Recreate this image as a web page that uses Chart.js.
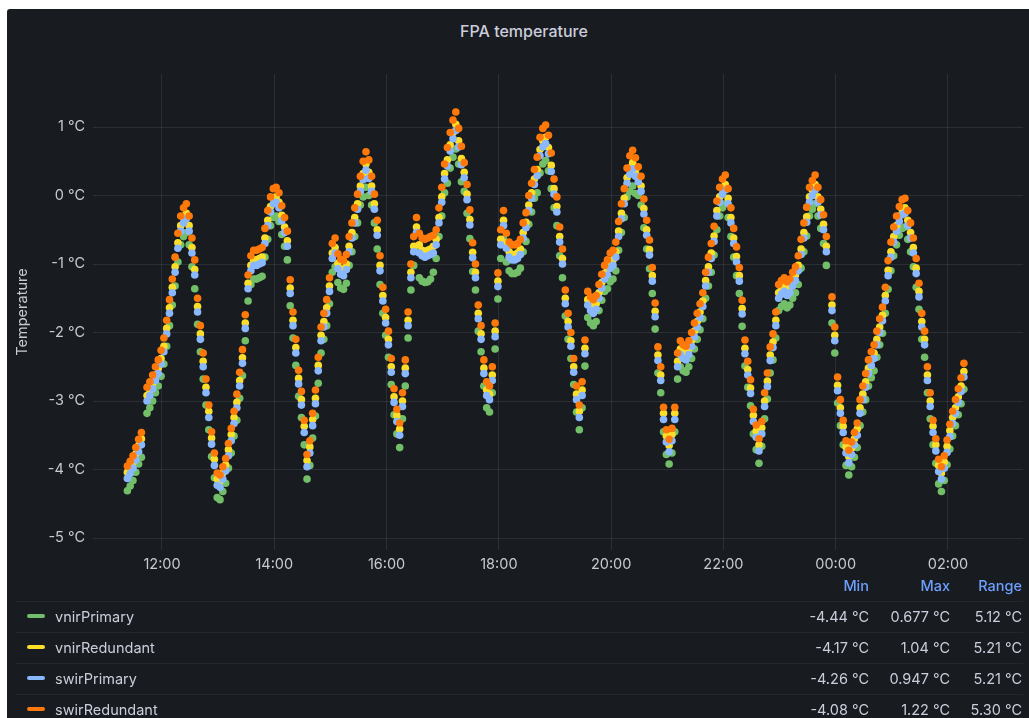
<!DOCTYPE html>
<html lang="en">
<head>
<meta charset="UTF-8">
<title>FPA temperature</title>
<script src="https://cdn.jsdelivr.net/npm/chart.js"></script>
<style>
    html, body { margin: 0; padding: 0; background: #ffffff; }
    body { width: 1029px; height: 718px; overflow: hidden; position: relative; font-family: Inter, 'Noto Sans', sans-serif; }
    .panel { position: absolute; left: 7px; top: 9px; width: 1022px; height: 709px; background: #181b1f; border-top-left-radius: 3px; overflow: hidden; }
    .panel-title { position: absolute; left: 0; width: 1034px; top: 12px; line-height: 20px; text-align: center; font-size: 16px; font-weight: 500; color: #ccccdc; }
    #chart { position: absolute; left: 0; top: 0; }
    .lg-head { position: absolute; left: 0; top: 567px; width: 1022px; height: 20px; font-size: 14.5px; font-weight: 500; color: #6e9fff; line-height: 20px; }
    .lg-head span, .lg-row .val { position: absolute; white-space: nowrap; }
    .lg-row { position: absolute; left: 9px; width: 1007px; height: 31px; border-top: 1px solid rgba(204,204,220,0.07); font-size: 14.5px; color: #ccccdc; line-height: 29px; }
    .lg-row .sw { position: absolute; left: 11px; top: 12px; width: 18px; height: 4px; border-radius: 2px; }
    .lg-row .name { position: absolute; left: 39px; }
</style>
</head>
<body>
<div class="panel">
    <div class="panel-title">FPA temperature</div>
    <canvas id="chart" width="1022" height="570"></canvas>
    <div id="legend"></div>
</div>

<script>
// sample times (every 3 minutes, 11:23 -> 02:17)
const times = [
    '11:23','11:26','11:29','11:32','11:35','11:38','11:41','11:44','11:47','11:50','11:53','11:56','11:59',
    '12:02','12:05','12:08','12:11','12:14','12:17','12:20','12:23','12:26','12:29','12:32','12:35','12:38','12:41','12:44','12:47','12:50','12:53','12:56','12:59',
    '13:02','13:05','13:08','13:11','13:14','13:17','13:20','13:23','13:26','13:29','13:32','13:35','13:38','13:41','13:44','13:47','13:50','13:53','13:56','13:59',
    '14:02','14:05','14:08','14:11','14:14','14:17','14:20','14:23','14:26','14:29','14:32','14:35','14:38','14:41','14:44','14:47','14:50','14:53','14:56','14:59',
    '15:02','15:05','15:08','15:11','15:14','15:17','15:20','15:23','15:26','15:29','15:32','15:35','15:38','15:41','15:44','15:47','15:50','15:53','15:56','15:59',
    '16:02','16:05','16:08','16:11','16:14','16:17','16:20','16:23','16:26','16:29','16:32','16:35','16:38','16:41','16:44','16:47','16:50','16:53','16:56','16:59',
    '17:02','17:05','17:08','17:11','17:14','17:17','17:20','17:23','17:26','17:29','17:32','17:35','17:38','17:41','17:44','17:47','17:50','17:53','17:56','17:59',
    '18:02','18:05','18:08','18:11','18:14','18:17','18:20','18:23','18:26','18:29','18:32','18:35','18:38','18:41','18:44','18:47','18:50','18:53','18:56','18:59',
    '19:02','19:05','19:08','19:11','19:14','19:17','19:20','19:23','19:26','19:29','19:32','19:35','19:38','19:41','19:44','19:47','19:50','19:53','19:56','19:59',
    '20:02','20:05','20:08','20:11','20:14','20:17','20:20','20:23','20:26','20:29','20:32','20:35','20:38','20:41','20:44','20:47','20:50','20:53','20:56','20:59',
    '21:02','21:05','21:08','21:11','21:14','21:17','21:20','21:23','21:26','21:29','21:32','21:35','21:38','21:41','21:44','21:47','21:50','21:53','21:56','21:59',
    '22:02','22:05','22:08','22:11','22:14','22:17','22:20','22:23','22:26','22:29','22:32','22:35','22:38','22:41','22:44','22:47','22:50','22:53','22:56','22:59',
    '23:02','23:05','23:08','23:11','23:14','23:17','23:20','23:23','23:26','23:29','23:32','23:35','23:38','23:41','23:44','23:47','23:50','23:53','23:56','23:59',
    '00:02','00:05','00:08','00:11','00:14','00:17','00:20','00:23','00:26','00:29','00:32','00:35','00:38','00:41','00:44','00:47','00:50','00:53','00:56','00:59',
    '01:02','01:05','01:08','01:11','01:14','01:17','01:20','01:23','01:26','01:29','01:32','01:35','01:38','01:41','01:44','01:47','01:50','01:53','01:56','01:59',
    '02:02','02:05','02:08','02:11','02:14','02:17'
];

const vnirPrimary = [
    -4.31,-4.24,-4.16,-4.04,-3.92,-3.82,null,-3.18,-3.10,-3.00,-2.88,-2.78,-2.64,
    -2.46,-2.20,-1.90,-1.60,-1.32,-0.97,-0.72,-0.60,-0.54,-0.72,-1.04,-1.36,-1.88,-2.28,-2.68,-3.06,-3.42,-3.81,-4.12,-4.41,
    -4.44,-4.32,-4.20,-3.98,-3.76,-3.51,-3.28,-2.96,-2.63,-2.12,-1.54,-1.30,-1.22,-1.22,-1.20,-1.18,-0.90,-0.64,-0.44,-0.32,
    -0.30,-0.38,-0.57,-0.74,-0.94,-1.61,-2.08,-2.48,-2.93,-3.24,-3.64,-4.14,-3.94,-3.54,-3.22,-2.74,-2.30,-2.10,-1.90,-1.58,
    -1.12,-1.04,-1.27,-1.35,-1.37,-1.28,-1.02,-0.82,-0.60,-0.40,-0.14,-0.02,0.12,0.00,-0.14,-0.40,-0.78,-1.30,-1.72,-2.04,
    -2.36,-2.76,-3.20,-3.48,-3.68,-3.26,-2.78,-2.08,-1.38,-1.02,-0.74,-1.20,-1.25,-1.27,-1.26,-1.22,-1.12,-0.92,-0.60,-0.30,
    0.04,0.18,0.40,0.56,0.68,0.46,0.20,0.06,-0.26,-0.63,-1.11,-1.38,-1.98,-2.28,-2.78,-3.10,-3.16,-2.88,-2.24,-1.51,
    -0.92,-0.64,-0.97,-1.10,-1.14,-1.14,-1.12,-1.06,-0.82,-0.67,-0.42,-0.24,-0.04,0.04,0.33,0.46,0.51,0.36,0.10,-0.18,
    -0.44,-0.88,-1.20,-1.76,-2.10,-2.38,-2.76,-3.16,-3.42,-3.10,-2.49,-1.78,-1.86,-1.90,-1.84,-1.68,-1.53,-1.40,-1.36,-1.26,
    -1.22,-1.10,-0.80,-0.54,-0.32,-0.02,0.06,0.14,0.03,0.00,-0.14,-0.47,-0.78,-1.07,-1.43,-1.95,-2.59,-2.88,-3.45,-3.78,
    -3.92,-3.76,-3.45,-2.68,-2.50,-2.56,-2.58,-2.50,-2.38,-2.24,-2.10,-1.96,-1.80,-1.50,-1.32,-1.12,-0.87,-0.50,-0.30,-0.18,
    -0.12,-0.32,-0.60,-0.90,-1.17,-1.43,-1.91,-2.49,-2.80,-3.07,-3.48,-3.71,-3.91,-3.66,-3.26,-2.97,-2.59,-2.40,-2.08,-1.68,
    -1.62,-1.58,-1.64,-1.60,-1.50,-1.42,-1.30,-1.06,-0.82,-0.59,-0.30,-0.20,-0.12,-0.30,-0.48,-0.70,-1.02,null,-1.86,-2.30,
    -3.03,-3.36,-3.64,-3.94,-4.08,-3.96,-3.82,-3.68,-3.36,-3.16,-2.98,-2.78,-2.66,-2.56,-2.36,-2.18,-2.01,-1.72,-1.37,-1.10,
    -0.88,-0.72,-0.58,-0.48,-0.46,-0.64,-0.82,-1.04,-1.34,-1.66,-2.10,-2.36,-2.88,-3.26,-3.64,-3.91,-4.21,-4.32,-4.16,-3.93,
    -3.70,-3.51,-3.36,-3.20,-3.04,-2.83
];

const vnirRedundant = [
    -4.04,-3.97,-3.89,-3.77,-3.65,-3.55,null,-2.92,-2.84,-2.74,-2.62,-2.52,-2.38,
    -2.20,-1.94,-1.64,-1.34,-1.04,-0.69,-0.44,-0.32,-0.26,-0.44,-0.76,-1.08,-1.62,-2.02,-2.42,-2.80,-3.15,-3.54,-3.85,-4.14,
    -4.17,-4.05,-3.93,-3.71,-3.49,-3.24,-3.02,-2.70,-2.37,-1.86,-1.28,-1.02,-0.94,-0.94,-0.92,-0.90,-0.62,-0.36,-0.16,-0.04,
    -0.02,-0.10,-0.29,-0.46,-0.66,-1.35,-1.82,-2.22,-2.67,-2.98,-3.37,-3.87,-3.67,-3.27,-2.96,-2.48,-2.04,-1.84,-1.64,-1.32,
    -0.84,-0.76,-0.99,-1.07,-1.09,-1.00,-0.74,-0.54,-0.32,-0.12,0.14,0.32,0.46,0.34,0.14,-0.12,-0.50,-1.02,-1.46,-1.78,
    -2.10,-2.50,-2.94,-3.21,-3.41,-3.00,-2.52,-1.82,-1.12,-0.74,-0.46,-0.72,-0.80,-0.82,-0.80,-0.78,-0.74,-0.64,-0.32,-0.02,
    0.32,0.52,0.74,0.92,1.04,0.80,0.54,0.34,0.02,-0.35,-0.83,-1.12,-1.72,-2.02,-2.52,-2.84,-2.90,-2.62,-1.98,-1.25,
    -0.64,-0.36,-0.69,-0.82,-0.86,-0.86,-0.84,-0.78,-0.54,-0.39,-0.14,0.04,0.24,0.38,0.67,0.80,0.85,0.70,0.44,0.10,
    -0.16,-0.60,-0.92,-1.50,-1.84,-2.12,-2.50,-2.90,-3.15,-2.84,-2.23,-1.52,-1.60,-1.64,-1.58,-1.42,-1.27,-1.14,-1.08,-0.98,
    -0.94,-0.82,-0.52,-0.26,-0.04,0.26,0.40,0.48,0.37,0.28,0.14,-0.19,-0.50,-0.79,-1.17,-1.69,-2.33,-2.62,-3.18,-3.51,
    -3.65,-3.49,-3.18,-2.42,-2.24,-2.30,-2.32,-2.24,-2.12,-1.98,-1.84,-1.70,-1.54,-1.24,-1.04,-0.84,-0.59,-0.22,-0.02,0.10,
    0.16,-0.04,-0.32,-0.62,-0.89,-1.17,-1.65,-2.23,-2.54,-2.81,-3.21,-3.44,-3.64,-3.39,-3.00,-2.71,-2.33,-2.14,-1.82,-1.42,
    -1.36,-1.32,-1.38,-1.34,-1.24,-1.16,-1.02,-0.78,-0.54,-0.31,-0.02,0.08,0.16,-0.02,-0.20,-0.42,-0.74,null,-1.60,-2.04,
    -2.77,-3.10,-3.37,-3.67,-3.81,-3.69,-3.55,-3.41,-3.10,-2.90,-2.72,-2.52,-2.40,-2.30,-2.10,-1.92,-1.75,-1.46,-1.09,-0.82,
    -0.60,-0.44,-0.30,-0.20,-0.18,-0.36,-0.54,-0.76,-1.06,-1.40,-1.84,-2.10,-2.62,-3.00,-3.37,-3.64,-3.94,-4.05,-3.89,-3.66,
    -3.43,-3.24,-3.10,-2.94,-2.78,-2.57
];

const swirPrimary = [
    -4.13,-4.06,-3.98,-3.86,-3.74,-3.64,null,-3.00,-2.92,-2.82,-2.70,-2.60,-2.46,
    -2.28,-2.02,-1.72,-1.42,-1.12,-0.77,-0.52,-0.40,-0.34,-0.52,-0.84,-1.16,-1.70,-2.10,-2.50,-2.88,-3.24,-3.63,-3.94,-4.23,
    -4.26,-4.14,-4.02,-3.80,-3.58,-3.33,-3.10,-2.78,-2.45,-1.94,-1.36,-1.10,-1.02,-1.02,-1.00,-0.98,-0.70,-0.44,-0.24,-0.12,
    -0.10,-0.18,-0.37,-0.54,-0.74,-1.43,-1.90,-2.30,-2.75,-3.06,-3.46,-3.96,-3.76,-3.36,-3.04,-2.56,-2.12,-1.92,-1.72,-1.40,
    -0.92,-0.84,-1.07,-1.15,-1.17,-1.08,-0.82,-0.62,-0.40,-0.20,0.06,0.23,0.37,0.25,0.06,-0.20,-0.58,-1.10,-1.54,-1.86,
    -2.18,-2.58,-3.02,-3.30,-3.50,-3.08,-2.60,-1.90,-1.20,-0.82,-0.54,-0.84,-0.88,-0.90,-0.88,-0.86,-0.84,-0.72,-0.40,-0.10,
    0.24,0.43,0.65,0.83,0.95,0.71,0.45,0.26,-0.06,-0.43,-0.91,-1.20,-1.80,-2.10,-2.60,-2.92,-2.98,-2.70,-2.06,-1.33,
    -0.72,-0.44,-0.77,-0.90,-0.94,-0.94,-0.92,-0.86,-0.62,-0.47,-0.22,-0.04,0.16,0.29,0.58,0.71,0.76,0.61,0.35,0.02,
    -0.24,-0.68,-1.00,-1.58,-1.92,-2.20,-2.58,-2.98,-3.24,-2.92,-2.31,-1.60,-1.68,-1.72,-1.66,-1.50,-1.35,-1.22,-1.16,-1.06,
    -1.02,-0.90,-0.60,-0.34,-0.12,0.18,0.31,0.39,0.28,0.20,0.06,-0.27,-0.58,-0.87,-1.25,-1.77,-2.41,-2.70,-3.27,-3.60,
    -3.74,-3.58,-3.27,-2.50,-2.32,-2.38,-2.40,-2.32,-2.20,-2.06,-1.92,-1.78,-1.62,-1.32,-1.12,-0.92,-0.67,-0.30,-0.10,0.02,
    0.08,-0.12,-0.40,-0.70,-0.97,-1.25,-1.73,-2.31,-2.62,-2.89,-3.30,-3.53,-3.73,-3.48,-3.08,-2.79,-2.41,-2.22,-1.90,-1.50,
    -1.44,-1.40,-1.46,-1.42,-1.32,-1.24,-1.10,-0.86,-0.62,-0.39,-0.10,0.00,0.08,-0.10,-0.28,-0.50,-0.82,null,-1.68,-2.12,
    -2.85,-3.18,-3.46,-3.76,-3.90,-3.78,-3.64,-3.50,-3.18,-2.98,-2.80,-2.60,-2.48,-2.38,-2.18,-2.00,-1.83,-1.54,-1.17,-0.90,
    -0.68,-0.52,-0.38,-0.28,-0.26,-0.44,-0.62,-0.84,-1.14,-1.48,-1.92,-2.18,-2.70,-3.08,-3.46,-3.73,-4.03,-4.14,-3.98,-3.75,
    -3.52,-3.33,-3.18,-3.02,-2.86,-2.65
];

const swirRedundant = [
    -3.95,-3.88,-3.80,-3.68,-3.56,-3.46,null,-2.80,-2.72,-2.62,-2.50,-2.40,-2.26,
    -2.08,-1.82,-1.52,-1.22,-0.90,-0.55,-0.30,-0.18,-0.12,-0.30,-0.62,-0.94,-1.50,-1.90,-2.30,-2.68,-3.06,-3.45,-3.76,-4.05,
    -4.08,-3.96,-3.84,-3.62,-3.40,-3.15,-2.90,-2.58,-2.25,-1.74,-1.16,-0.88,-0.80,-0.80,-0.78,-0.76,-0.48,-0.22,-0.02,0.10,
    0.12,0.04,-0.15,-0.32,-0.52,-1.23,-1.70,-2.10,-2.55,-2.86,-3.28,-3.78,-3.58,-3.18,-2.84,-2.36,-1.92,-1.72,-1.52,-1.20,
    -0.70,-0.62,-0.85,-0.93,-0.95,-0.86,-0.60,-0.40,-0.18,0.02,0.28,0.50,0.64,0.52,0.28,0.02,-0.36,-0.88,-1.34,-1.66,
    -1.98,-2.38,-2.82,-3.12,-3.32,-2.88,-2.40,-1.70,-1.00,-0.60,-0.32,-0.55,-0.62,-0.64,-0.62,-0.60,-0.58,-0.50,-0.18,0.12,
    0.46,0.70,0.92,1.10,1.22,0.98,0.72,0.48,0.16,-0.21,-0.69,-1.00,-1.60,-1.90,-2.40,-2.72,-2.78,-2.50,-1.86,-1.13,
    -0.50,-0.22,-0.55,-0.68,-0.72,-0.72,-0.70,-0.64,-0.40,-0.25,0.00,0.18,0.38,0.56,0.85,0.98,1.03,0.88,0.62,0.24,
    -0.02,-0.46,-0.78,-1.38,-1.72,-2.00,-2.38,-2.78,-3.06,-2.72,-2.11,-1.40,-1.48,-1.52,-1.46,-1.30,-1.15,-1.02,-0.94,-0.84,
    -0.80,-0.68,-0.38,-0.12,0.10,0.40,0.58,0.66,0.55,0.42,0.28,-0.05,-0.36,-0.65,-1.05,-1.57,-2.21,-2.50,-3.09,-3.42,
    -3.56,-3.40,-3.09,-2.30,-2.12,-2.18,-2.20,-2.12,-2.00,-1.86,-1.72,-1.58,-1.42,-1.12,-0.90,-0.70,-0.45,-0.08,0.12,0.24,
    0.30,0.10,-0.18,-0.48,-0.75,-1.05,-1.53,-2.11,-2.42,-2.69,-3.12,-3.35,-3.55,-3.30,-2.88,-2.59,-2.21,-2.02,-1.70,-1.30,
    -1.24,-1.20,-1.26,-1.22,-1.12,-1.04,-0.88,-0.64,-0.40,-0.17,0.12,0.22,0.30,0.12,-0.06,-0.28,-0.60,null,-1.48,-1.92,
    -2.65,-2.98,-3.28,-3.58,-3.72,-3.60,-3.46,-3.32,-2.98,-2.78,-2.60,-2.40,-2.28,-2.18,-1.98,-1.80,-1.63,-1.34,-0.95,-0.68,
    -0.46,-0.30,-0.16,-0.06,-0.04,-0.22,-0.40,-0.62,-0.92,-1.28,-1.72,-1.98,-2.50,-2.88,-3.28,-3.55,-3.85,-3.96,-3.80,-3.57,
    -3.34,-3.15,-2.98,-2.82,-2.66,-2.45
];

const seriesNames = ['vnirPrimary', 'vnirRedundant', 'swirPrimary', 'swirRedundant'];
const seriesValues = [vnirPrimary, vnirRedundant, swirPrimary, swirRedundant];
const seriesColors = ['#73bf69', '#fade2a', '#8ab8ff', '#ff780a'];

const xTickHours = [12, 14, 16, 18, 20, 22, 24, 26];
const yTicks = [-5, -4, -3, -2, -1, 0, 1];

const legendColumns = ['Min', 'Max', 'Range'];
const legendMin = ['-4.44 °C', '-4.17 °C', '-4.26 °C', '-4.08 °C'];
const legendMax = ['0.677 °C', '1.04 °C', '0.947 °C', '1.22 °C'];
const legendRange = ['5.12 °C', '5.21 °C', '5.21 °C', '5.30 °C'];

function toHours(s) {
    const [h, m] = s.split(':').map(Number);
    return (h < 11 ? h + 24 : h) + m / 60;
}

const textColor = '#c8c9d1';
const gridColor = 'rgba(240,250,255,0.09)';
const tickFont = { family: 'Inter', size: 14.5 };

const datasets = seriesNames.map((name, i) => ({
    label: name,
    data: times.map((t, k) => ({ x: toHours(t), y: seriesValues[i][k] })).filter(p => p.y !== null),
    backgroundColor: seriesColors[i],
    borderWidth: 0,
    pointRadius: 3.8,
    pointHoverRadius: 3.8,
    order: seriesNames.length - i
}));

new Chart(document.getElementById('chart'), {
    type: 'scatter',
    data: { datasets },
    options: {
        responsive: false,
        animation: false,
        devicePixelRatio: 1,
        layout: { padding: { top: 65, right: 6, left: 0, bottom: 0 } },
        plugins: { legend: { display: false }, tooltip: { enabled: false } },
        scales: {
            x: {
                type: 'linear',
                min: 10.771,
                max: 27.336,
                grid: { color: gridColor, drawTicks: false },
                border: { display: false },
                ticks: {
                    color: textColor, font: tickFont, padding: 6, maxRotation: 0,
                    callback: v => String(v % 24).padStart(2, '0') + ':00'
                },
                afterBuildTicks: axis => { axis.ticks = xTickHours.map(v => ({ value: v })); },
                afterFit: axis => { axis.height = 29; }
            },
            y: {
                min: -5.175,
                max: 1.774,
                grid: { color: gridColor, drawTicks: false },
                border: { display: false },
                ticks: { color: textColor, font: tickFont, padding: 8, callback: v => v + ' °C' },
                title: { display: true, text: 'Temperature', color: textColor, font: tickFont, padding: { top: 7, bottom: 0 } },
                afterBuildTicks: axis => { axis.ticks = yTicks.map(v => ({ value: v })); },
                afterFit: axis => { axis.width = 86; }
            }
        }
    }
});

// legend table
const legend = document.getElementById('legend');
const colRight = [160, 79, 7];
let head = '<div class="lg-head">';
legendColumns.forEach((c, j) => { head += `<span style="right:${colRight[j]}px">${c}</span>`; });
head += '</div>';
legend.innerHTML = head;
seriesNames.forEach((name, i) => {
    const row = document.createElement('div');
    row.className = 'lg-row';
    row.style.top = (592 + 31 * i) + 'px';
    const vals = [legendMin[i], legendMax[i], legendRange[i]];
    row.innerHTML = `<div class="sw" style="background:${seriesColors[i]}"></div><span class="name">${name}</span>` +
        vals.map((v, j) => `<span class="val" style="right:${colRight[j] - 6}px">${v}</span>`).join('');
    legend.appendChild(row);
});
</script>
</body>
</html>
